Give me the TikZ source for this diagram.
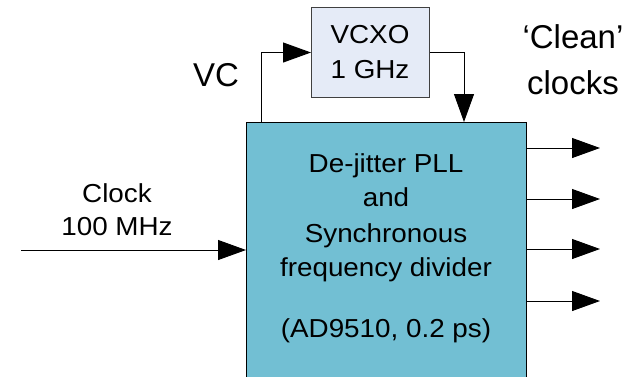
\documentclass[tikz,border=0pt]{standalone}
\usepackage{fontspec}
\setmainfont{Liberation Sans}
\newfontfamily\boxfont[FakeStretch=1.07]{Liberation Sans}
\usetikzlibrary{arrows.meta,calc}
\definecolor{djfill}{HTML}{72BFD3}
\definecolor{vcfill}{HTML}{E5EBF7}
\tikzset{
  conn/.style={line width=1pt, draw=black, -{Triangle[length=28pt,width=20pt,fill=black]}},
  txt/.style={anchor=base, inner sep=0pt, font=\boxfont\fontsize{26}{30}\selectfont},
  bigtxt/.style={anchor=base, inner sep=0pt, font=\fontsize{33}{38}\selectfont},
}
\begin{document}
\begin{tikzpicture}[x=1pt,y=-1pt]
\clip (0,0) rectangle (629,376);
\fill[white] (0,0) rectangle (629,376);
% boxes
\node[draw=black, line width=1.3pt, fill=djfill, minimum width=280pt, minimum height=280pt, inner sep=0pt, anchor=north west] (dj) at (246,122) {};
\node[draw=black!75, line width=1pt, fill=vcfill, minimum width=118pt, minimum height=90pt, inner sep=0pt, anchor=north west] (vcxo) at (311,7) {};
% texts
\node[txt] (v1) at (370,43) {VCXO};
\node[txt] (v2) at (370,78) {1 GHz};
\node[txt] (d1) at (386,172) {De-jitter PLL};
\node[txt] (d2) at (386,206) {and};
\node[txt] (d3) at (386,242) {Synchronous};
\node[txt] (d4) at (386,276) {frequency divider};
\node[txt] (d5) at (386,337) {(AD9510, 0.2 ps)};
\node[txt] (c1) at (117,202) {Clock};
\node[txt] (c2) at (117,235) {100 MHz};
\node[bigtxt] (vc) at (216,86) {VC};
\node[bigtxt] (cl1) at (573,48) {‘Clean’};
\node[bigtxt] (cl2) at (573,94) {clocks};
% connectors
\coordinate (fb) at ($(dj.north west)+(15,0)$);
\coordinate (fin) at ($(dj.north west)+(218,0)$);
\draw[conn] (fb) |- (vcxo.west);
\draw[conn] (vcxo.east) -| (fin);
\coordinate (clk) at (21,250);
\draw[conn] (clk) -- (dj.west |- clk);
\coordinate (o1) at (600,148);
\coordinate (o2) at (600,199);
\coordinate (o3) at (600,249);
\coordinate (o4) at (600,301);
\foreach \o in {o1,o2,o3,o4} \draw[conn] (dj.east |- \o) -- (\o);
\end{tikzpicture}
\end{document}
